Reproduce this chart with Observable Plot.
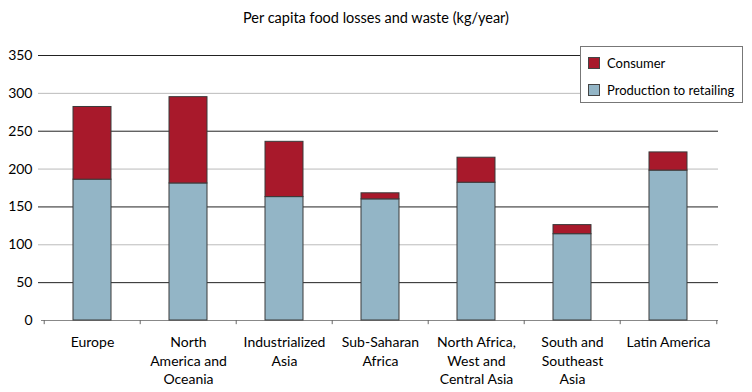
<!DOCTYPE html>
<html>
<head>
<meta charset="utf-8">
<script src="https://cdn.jsdelivr.net/npm/d3@7"></script>
<script src="https://cdn.jsdelivr.net/npm/@observablehq/plot@0.6"></script>
<style>
  html, body { margin: 0; padding: 0; background: #fff; }
  body { width: 752px; height: 392px; position: relative; overflow: hidden; font-family: Lato, "Noto Sans", sans-serif; color: #000; }
  #title { height: 38px; line-height: 36px; text-align: center; font-size: 14.5px; }
  #legend { position: absolute; left: 580px; top: 46px; width: 163px; height: 57px; border: 1px solid #777; background: #fff; font-size: 13px; box-sizing: border-box; }
  .item { position: absolute; left: 7px; display: flex; align-items: center; }
  .sw { width: 12px; height: 12px; border: 1px solid #444; box-sizing: border-box; margin-right: 7px; }
</style>
</head>
<body>
<div id="title">Per capita food losses and waste (kg/year)</div>
<div id="chart"></div>
<div id="legend"></div>
<script>
const regions = ["Europe", "North America and Oceania", "Industrialized Asia", "Sub-Saharan Africa", "North Africa, West and Central Asia", "South and Southeast Asia", "Latin America"];
const regionLabels = ["Europe", "North\nAmerica and\nOceania", "Industrialized\nAsia", "Sub-Saharan\nAfrica", "North Africa,\nWest and\nCentral Asia", "South and\nSoutheast\nAsia", "Latin America"];
const production = [186, 181, 163, 160, 182, 114, 198];
const consumer = [96, 114, 73, 8, 33, 12, 24];
const seriesNames = ["Consumer", "Production to retailing"];
const seriesColors = ["#A8192B", "#93B5C6"];
const yTicks = [0, 50, 100, 150, 200, 250, 300, 350];

const rows = [];
regions.forEach((r, i) => {
  rows.push({region: r, series: "Production to retailing", value: production[i], order: 0});
  rows.push({region: r, series: "Consumer", value: consumer[i], order: 1});
});

const width = 752, height = 354, mL = 42, mR = 34;
const step = (width - mL - mR) / regions.length;
const labelOf = new Map(regions.map((r, i) => [r, regionLabels[i]]));

const chart = Plot.plot({
  width, height,
  marginLeft: mL, marginRight: mR, marginTop: 17, marginBottom: 72,
  style: {fontFamily: "Lato, 'Noto Sans', sans-serif", fontSize: "14px", color: "#000", background: "#fff", overflow: "visible"},
  x: {domain: regions, paddingInner: 0.6, paddingOuter: 0.3, axis: null, label: null},
  y: {domain: [0, 350], axis: null, label: null},
  color: {domain: seriesNames, range: seriesColors},
  marks: [
    Plot.ruleY(yTicks.filter(d => d > 0), {y: d => d, stroke: d => (d / 50) % 2 === 1 ? "#222" : "#bbb", strokeWidth: 1, insetLeft: -4}),
    Plot.ruleY([0], {stroke: "#888", insetLeft: -1}),
    Plot.ruleX(regions, {x: d => d, y1: 0, y2: -5.5, dx: -step / 2, stroke: "#666"}),
    Plot.ruleX(regions.slice(-1), {x: d => d, y1: 0, y2: -5.5, dx: step / 2, stroke: "#666"}),
    Plot.barY(rows, Plot.stackY({x: "region", y: "value", fill: "series", order: "order", stroke: "#3a3a3a", strokeWidth: 1})),
    Plot.axisY(yTicks, {tickSize: 0, tickPadding: 10, fontSize: 14, fill: "#000", label: null}),
    Plot.axisX({tickSize: 0, tickPadding: 14, tickFormat: d => labelOf.get(d), lineHeight: 1.3, fontSize: 14, fill: "#000", label: null})
  ]
});
document.getElementById("chart").appendChild(chart);

const legend = document.getElementById("legend");
seriesNames.forEach((name, i) => {
  const item = document.createElement("div");
  item.className = "item";
  item.style.top = (i === 0 ? 8 : 35) + "px";
  const sw = document.createElement("div");
  sw.className = "sw";
  sw.style.background = seriesColors[i];
  const t = document.createElement("span");
  t.textContent = name;
  item.appendChild(sw); item.appendChild(t);
  legend.appendChild(item);
});
</script>
</body>
</html>
